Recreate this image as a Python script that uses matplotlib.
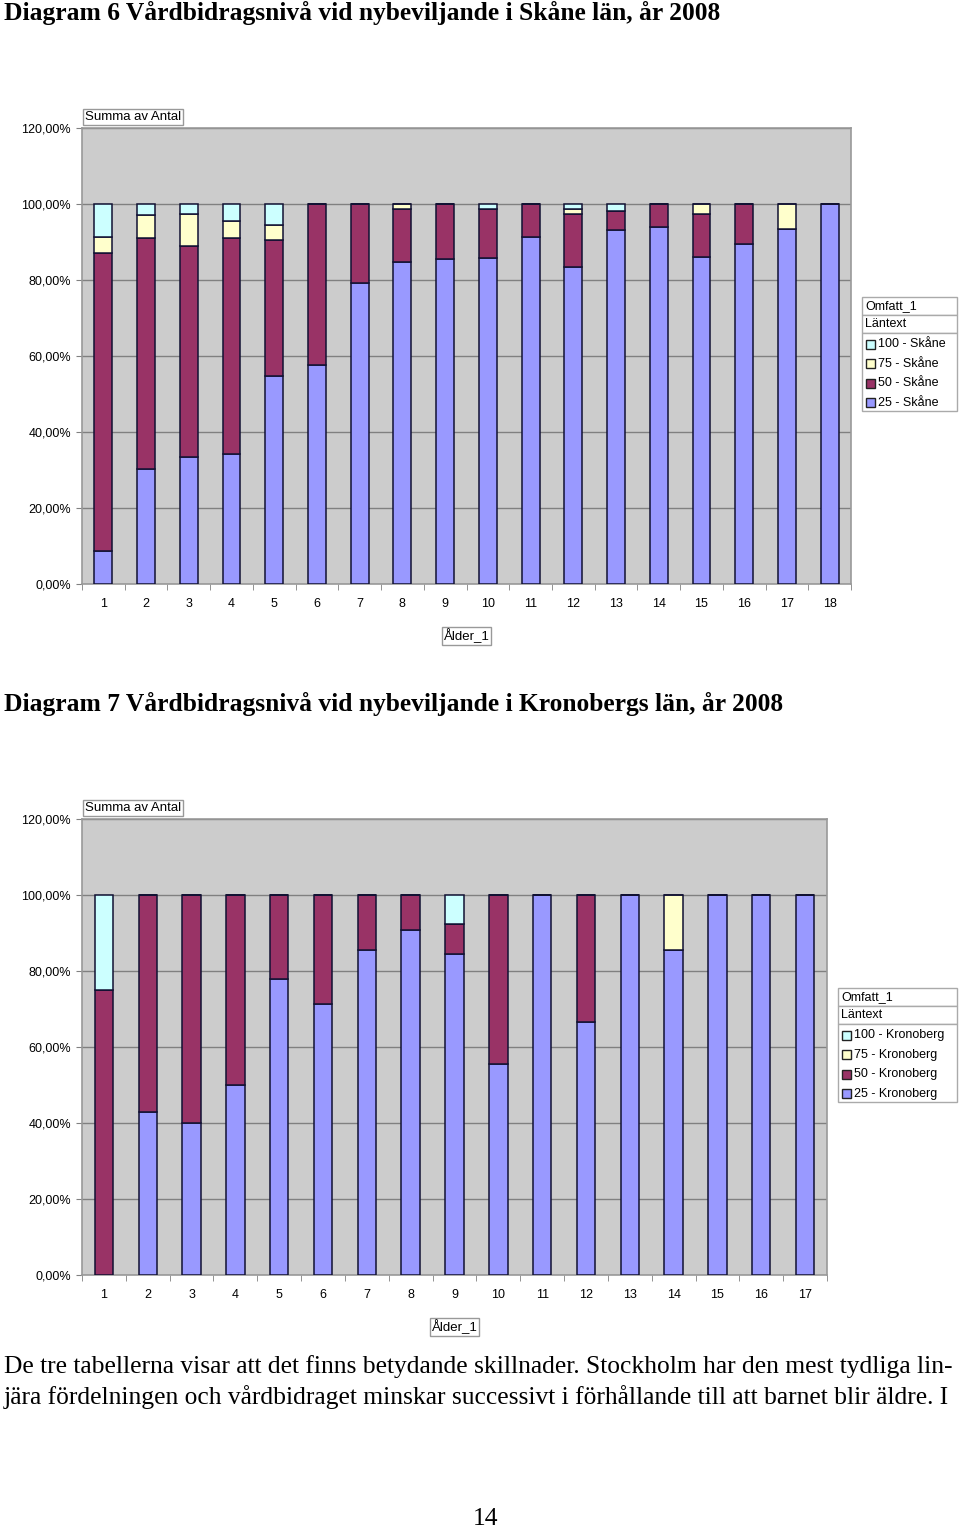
import numpy as np
import matplotlib
matplotlib.use("Agg")
import matplotlib.pyplot as plt
from matplotlib.patches import Rectangle
from matplotlib.ticker import FuncFormatter, MultipleLocator

# Skåne, segment heights in percent (25, 50, 75, 100) per age 1..18
skane_ages = [str(i) for i in range(1, 19)]
skane_25 = [8.7, 30.3, 33.4, 34.2, 54.7, 57.6, 79.2, 84.7, 85.4, 85.9, 91.2, 83.3, 93.2, 93.9, 86.1, 89.6, 93.3, 100]
skane_50 = [78.3, 60.7, 55.5, 56.8, 35.8, 42.4, 20.8, 13.9, 14.6, 12.8, 8.8, 14.0, 5.0, 6.1, 11.2, 10.4, 0, 0]
skane_75 = [4.4, 6.1, 8.4, 4.5, 4.0, 0, 0, 1.4, 0, 0, 0, 1.3, 0, 0, 2.7, 0, 6.7, 0]
skane_100 = [8.6, 2.9, 2.7, 4.5, 5.5, 0, 0, 0, 0, 1.3, 0, 1.4, 1.8, 0, 0, 0, 0, 0]

# Kronoberg, ages 1..17
krono_ages = [str(i) for i in range(1, 18)]
krono_25 = [0, 42.9, 40.0, 50.0, 77.8, 71.3, 85.6, 90.8, 84.5, 55.5, 100, 66.6, 100, 85.6, 100, 100, 100]
krono_50 = [75.0, 57.1, 60.0, 50.0, 22.2, 28.7, 14.4, 9.2, 7.8, 44.5, 0, 33.4, 0, 0, 0, 0, 0]
krono_75 = [0, 0, 0, 0, 0, 0, 0, 0, 0, 0, 0, 0, 0, 14.4, 0, 0, 0]
krono_100 = [25.0, 0, 0, 0, 0, 0, 0, 0, 7.7, 0, 0, 0, 0, 0, 0, 0, 0]

levels = ["25", "50", "75", "100"]
colors = {"25": "#9999ff", "50": "#993366", "75": "#ffffcc", "100": "#ccffff"}

W, H = 960, 1528
fig = plt.figure(figsize=(W / 100, H / 100), dpi=100)


def fx(x):
    return x / W


def fy(y):
    return 1 - y / H


serif = "Liberation Serif"
sans = "Liberation Sans"


def chart(left, top, right, bottom, ages, series, region, leg, title_y, title):
    fig.text(fx(4), fy(title_y), title, fontsize=18.4, fontweight="bold",
             family=serif, va="center", ha="left")
    ax = fig.add_axes([fx(left), fy(bottom), fx(right) - fx(left), fy(top) - fy(bottom)])
    ax.set_facecolor("#cccccc")
    x = np.arange(len(ages))
    base = np.zeros(len(ages))
    for lev, vals in zip(levels, series):
        v = np.array(vals) / 100
        ax.bar(x, v, bottom=base, width=0.42, color=colors[lev],
               edgecolor="#111133", linewidth=1.1, zorder=3)
        base += v
    ax.set_xlim(-0.5, len(ages) - 0.5)
    ax.set_ylim(0, 1.2)
    ax.yaxis.set_major_locator(MultipleLocator(0.2))
    ax.yaxis.set_major_formatter(FuncFormatter(lambda v, p: f"{v * 100:.2f}%".replace(".", ",")))
    ax.grid(axis="y", color="#808080", linewidth=1, zorder=1)
    ax.set_xticks(x)
    ax.set_xticklabels(ages)
    ax.set_xticks(np.arange(len(ages) + 1) - 0.5, minor=True)
    ax.tick_params(axis="x", which="major", length=0, pad=10, labelsize=9)
    ax.tick_params(axis="x", which="minor", length=4, color="#808080", direction="out")
    ax.tick_params(axis="y", length=4, color="#808080", labelsize=9, pad=4)
    for lab in ax.get_xticklabels() + ax.get_yticklabels():
        lab.set_family(sans)
    for s in ax.spines.values():
        s.set_color("#999999")
        s.set_linewidth(1.2)
    # field buttons
    fig.text(fx(left + 3), fy(top - 11), "Summa av Antal", fontsize=9.5, family=sans,
             va="center", ha="left",
             bbox=dict(boxstyle="square,pad=0.15", fc="white", ec="#999999", lw=1))
    fig.text(fx((left + right) / 2), fy(bottom + 52), "Ålder_1", fontsize=9.5, family=sans,
             va="center", ha="center",
             bbox=dict(boxstyle="square,pad=0.15", fc="white", ec="#999999", lw=1))
    # legend
    lx0, ly0, lx1 = leg
    rows = [ly0, ly0 + 18, ly0 + 36]
    ly1 = ly0 + 36 + 78
    for y0, y1 in [(ly0, ly0 + 18), (ly0 + 18, ly0 + 36), (ly0 + 36, ly1)]:
        fig.add_artist(Rectangle((fx(lx0), fy(y1)), fx(lx1) - fx(lx0), fy(y0) - fy(y1),
                                 transform=fig.transFigure, fc="white", ec="#aaaaaa", lw=1))
    fig.text(fx(lx0 + 3), fy(rows[0] + 9), "Omfatt_1", fontsize=9, family=sans, va="center")
    fig.text(fx(lx0 + 3), fy(rows[1] + 9), "Läntext", fontsize=9, family=sans, va="center")
    for i, lev in enumerate(levels[::-1]):
        cy = ly0 + 36 + 11 + i * 19.6
        fig.add_artist(Rectangle((fx(lx0 + 4), fy(cy + 4.5)), fx(9), fx(9) * W / H,
                                 transform=fig.transFigure, fc=colors[lev], ec="#222222", lw=1))
        fig.text(fx(lx0 + 16), fy(cy), f"{lev} - {region}", fontsize=9, family=sans, va="center")
    return ax


chart(82, 128, 851, 584, skane_ages, [skane_25, skane_50, skane_75, skane_100], "Skåne",
      (862, 297, 957), 13, "Diagram 6 Vårdbidragsnivå vid nybeviljande i Skåne län, år 2008")
chart(82, 819, 827, 1275, krono_ages, [krono_25, krono_50, krono_75, krono_100], "Kronoberg",
      (838, 988, 957), 704, "Diagram 7 Vårdbidragsnivå vid nybeviljande i Kronobergs län, år 2008")

fig.text(fx(4), fy(1367), "De tre tabellerna visar att det finns betydande skillnader. Stockholm har den mest tydliga lin-",
         fontsize=18.4, family=serif, va="center", ha="left")
fig.text(fx(4), fy(1397), "jära fördelningen och vårdbidraget minskar successivt i förhållande till att barnet blir äldre. I",
         fontsize=18.4, family=serif, va="center", ha="left")
fig.text(fx(486), fy(1519), "14", fontsize=18.4, family=serif, va="center", ha="center")

fig.savefig("out.png", dpi=100)
